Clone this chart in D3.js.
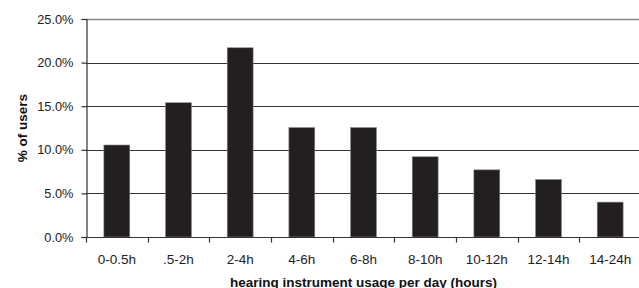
<!DOCTYPE html>
<html>
<head>
<meta charset="utf-8">
<script src="https://cdn.jsdelivr.net/npm/d3@7"></script>
<style>
  body { margin: 0; background: #fff; }
  svg { display: block; font-family: "Liberation Sans", Arial, sans-serif; }
</style>
</head>
<body>
<div class="chart"></div>
<script>
// data
const categories = ["0-0.5h", ".5-2h", "2-4h", "4-6h", "6-8h", "8-10h", "10-12h", "12-14h", "14-24h"];
const shares = [10.55, 15.4, 21.7, 12.55, 12.55, 9.2, 7.7, 6.6, 4.0];
const yTicks = [0, 5, 10, 15, 20, 25];

const width = 639, height = 288;
const margin = { top: 19, right: -2, bottom: 51, left: 86 };

const svg = d3.select(".chart")
    .append("svg")
    .attr("width", width)
    .attr("height", height);

const x = d3.scaleBand()
    .domain(categories)
    .range([margin.left, width - margin.right])
    .paddingInner(0.58)
    .paddingOuter(0.29);

const y = d3.scaleLinear()
    .domain([0, 25])
    .range([height - margin.bottom, margin.top]);

// gridlines
svg.append("g")
    .selectAll("line")
    .data(yTicks.filter(d => d > 0))
    .enter().append("line")
    .attr("x1", margin.left)
    .attr("x2", width)
    .attr("y1", d => Math.round(y(d)) + 0.5)
    .attr("y2", d => Math.round(y(d)) + 0.5)
    .attr("stroke", d => d === 25 ? "#8a8a8a" : "#333")
    .attr("stroke-width", d => d === 25 ? 1.4 : 1.2);

// bars
svg.append("g")
    .selectAll("rect")
    .data(shares)
    .enter().append("rect")
    .attr("x", (d, i) => x(categories[i]))
    .attr("width", x.bandwidth())
    .attr("y", d => y(d))
    .attr("height", d => y(0) - y(d))
    .attr("fill", "#231f20")
    .attr("stroke", "#888")
    .attr("stroke-width", 0.6);

// y axis
const yAxis = svg.append("g")
    .attr("transform", `translate(${margin.left + 0.5},0)`)
    .call(d3.axisLeft(y).tickValues(yTicks).tickSize(5).tickPadding(8)
        .tickFormat(d => d.toFixed(1) + "%"));
yAxis.select(".domain").attr("stroke", "#333").attr("stroke-width", 1.2);
yAxis.selectAll(".tick line").attr("stroke", "#333").attr("stroke-width", 1.2);
yAxis.selectAll("text")
    .attr("font-size", "12.8px")
    .attr("fill", "#222")
    .attr("font-family", "Liberation Sans, Arial, sans-serif");

// x axis
const step = x.step();
const xAxis = svg.append("g")
    .attr("transform", `translate(0,${Math.round(y(0)) + 0.5})`);
xAxis.append("line")
    .attr("x1", margin.left)
    .attr("x2", width)
    .attr("stroke", "#333")
    .attr("stroke-width", 1.2);
xAxis.selectAll(".tk")
    .data(categories)
    .enter().append("line")
    .attr("class", "tk")
    .attr("x1", d => Math.round(x(d) - x.paddingOuter() * step) + 0.5)
    .attr("x2", d => Math.round(x(d) - x.paddingOuter() * step) + 0.5)
    .attr("y1", 0)
    .attr("y2", 5)
    .attr("stroke", "#333")
    .attr("stroke-width", 1.2);
xAxis.selectAll("text")
    .data(categories)
    .enter().append("text")
    .attr("x", d => x(d) + x.bandwidth() / 2)
    .attr("y", 26)
    .attr("text-anchor", "middle")
    .attr("font-size", "13.5px")
    .attr("fill", "#222")
    .text(d => d);

// titles
svg.append("text")
    .attr("x", (margin.left + width - margin.right) / 2)
    .attr("y", 286.5)
    .attr("text-anchor", "middle")
    .attr("font-size", "13.5px")
    .attr("font-weight", "bold")
    .attr("fill", "#111")
    .text("hearing instrument usage per day (hours)");

svg.append("text")
    .attr("transform", `translate(26.5,${(margin.top + height - margin.bottom) / 2}) rotate(-90)`)
    .attr("text-anchor", "middle")
    .attr("font-size", "13.5px")
    .attr("font-weight", "bold")
    .attr("fill", "#111")
    .text("% of users");
</script>
</body>
</html>
